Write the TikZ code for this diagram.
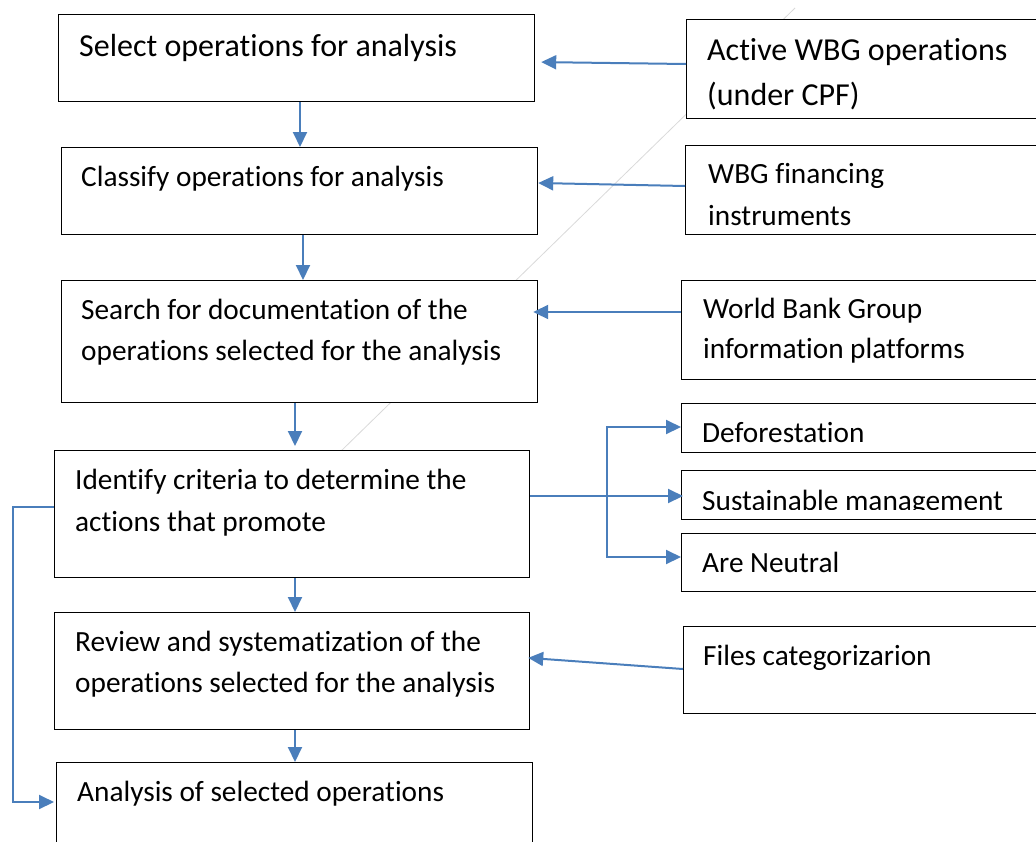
\documentclass[tikz,border=0pt]{standalone}
\usepackage{fontspec}
\setmainfont{Carlito}[Ligatures={NoCommon}]
\usetikzlibrary{arrows.meta}
\definecolor{conncol}{HTML}{4A7EBB}
\tikzset{
  box/.style={draw=black, line width=1.2pt, fill=white, inner sep=0pt, anchor=north west},
  lbl/.style={anchor=base west, inner sep=0pt, font=\fontsize{29.3}{35}\selectfont},
  biglbl/.style={lbl, font=\fontsize{32}{38}\selectfont},
  conn/.style={draw=conncol, line width=2pt, -{Triangle[length=15pt,width=14pt]}},
  faint/.style={draw=black!15, line width=0.8pt},
}
\begin{document}
\begin{tikzpicture}[x=1pt,y=-1pt]
\useasboundingbox (0,0) rectangle (1036,841);
\clip (0,0) rectangle (1036,841);
% faint background line
\draw[faint] (795,8) -- (340,452);
% left column
\node[box, minimum width=476pt, minimum height=87pt]  (sel) at (58,14)  {};
\node[box, minimum width=476pt, minimum height=87pt]  (cla) at (61,147) {};
\node[box, minimum width=476pt, minimum height=122pt] (sea) at (61,280) {};
\node[box, minimum width=475pt, minimum height=127pt] (ide) at (54,450) {};
\node[box, minimum width=475pt, minimum height=117pt] (rev) at (54,612) {};
\node[box, minimum width=476pt, minimum height=140pt] (ana) at (56,762) {};
% right column
\node[box, minimum width=414pt, minimum height=99pt] (act) at (686,19)  {};
\node[box, minimum width=415pt, minimum height=89pt] (fin) at (685,145) {};
\node[box, minimum width=419pt, minimum height=99pt] (wbg) at (681,280) {};
\node[box, minimum width=419pt, minimum height=49pt] (def) at (681,403) {};
\node[box, minimum width=419pt, minimum height=49pt] (sus) at (681,470) {};
\node[box, minimum width=419pt, minimum height=58pt] (neu) at (681,533) {};
\node[box, minimum width=417pt, minimum height=87pt] (fil) at (683,626) {};
% texts
\node[biglbl] (tsel) at (79,56) {Select operations for analysis};
\node[lbl] (tcla) at (81,186) {Classify operations for analysis};
\node[lbl] (tsea1) at (81,319) {Search for documentation of the};
\node[lbl] (tsea2) at (81,360) {operations selected for the analysis};
\node[lbl] (tide1) at (75,489) {Identify criteria to determine the};
\node[lbl] (tide2) at (75,531) {actions that promote};
\node[lbl] (trev1) at (75,651) {Review and systematization of the};
\node[lbl] (trev2) at (75,692) {operations selected for the analysis};
\node[lbl] (tana) at (77,801) {Analysis of selected operations};
\node[biglbl] (tact1) at (707,60) {Active WBG operations};
\node[biglbl] (tact2) at (707,105) {(under CPF)};
\node[lbl] (tfin1) at (708,183) {WBG financing};
\node[lbl] (tfin2) at (708,225) {instruments};
\node[lbl] (twbg1) at (703,318) {World Bank Group};
\node[lbl] (twbg2) at (703,358) {information platforms};
\node[lbl] (tdef) at (702,442) {Deforestation};
\begin{scope}
  \clip (681,470) rectangle (1036,509.5);
  \node[lbl] (tsus) at (702,510) {Sustainable management};
\end{scope}
\node[lbl] (tneu) at (702,572) {Are Neutral};
\node[lbl] (tfil) at (703,665) {Files categorizarion};
% connectors
\draw[conn, shorten >=6pt] (act.west |- 0,64) -- (sel.east |- 0,62);
\draw[conn] (fin.west |- 0,186) -- (cla.east |- 0,183);
\draw[conn, shorten >=-5pt] (wbg.west |- 0,312) -- (sea.east |- 0,312);
\draw[conn, shorten >=-2pt] (fil.west |- 0,669) -- (rev.east |- 0,658);
\draw[conn] (sel.south -| 300,0) -- (cla.north -| 300,0);
\draw[conn] (cla.south -| 303,0) -- (sea.north -| 303,0);
\draw[conn, shorten >=4pt] (sea.south -| 295,0) -- (ide.north -| 295,0);
\draw[conn] (ide.south -| 295,0) -- (rev.north -| 295,0);
\draw[conn] (rev.south -| 295,0) -- (ana.north -| 295,0);
\draw[conn] (ide.east |- 0,496) -- ++(77,0) |- (def.west |- 0,427);
\draw[conn, shorten >=-2pt] (ide.east |- 0,496) -- (sus.west |- 0,496);
\draw[conn] (ide.east |- 0,496) -- ++(77,0) |- (neu.west |- 0,557);
\draw[conn, shorten >=2pt] (ide.west |- 0,507) -- ++(-41,0) |- (ana.west |- 0,802);
\end{tikzpicture}
\end{document}
